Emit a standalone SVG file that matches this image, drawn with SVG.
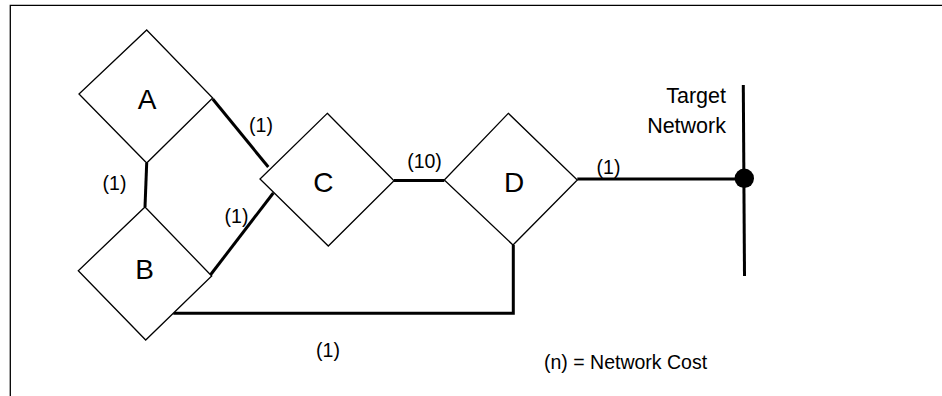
<svg xmlns="http://www.w3.org/2000/svg" width="942" height="396" viewBox="0 0 942 396">
<style>
.node{fill:#fff;stroke:#000;stroke-width:1.3;stroke-linejoin:miter}
.conn{fill:none;stroke:#000;stroke-width:3}
.frame{fill:none;stroke:#000;stroke-width:1.3}
.big{font-family:"Liberation Sans",Arial,sans-serif;font-size:28px;fill:#000;text-anchor:middle}
.lbl{font-family:"Liberation Sans",Arial,sans-serif;font-size:19.5px;fill:#000;text-anchor:middle}
.tn{font-family:"Liberation Sans",Arial,sans-serif;font-size:21.5px;fill:#000;text-anchor:end}
</style>
<rect width="942" height="396" fill="#fff"/>
<path class="frame" d="M10.3,396 V5.3 H942"/>
<g id="connectors">
<line class="conn" x1="146.7" y1="163" x2="145" y2="207"/>
<line class="conn" x1="212.7" y1="99" x2="268.3" y2="167"/>
<line class="conn" x1="210" y1="275.5" x2="273.3" y2="193"/>
<line class="conn" x1="394" y1="180.5" x2="444.3" y2="180.5"/>
<line class="conn" x1="577.3" y1="179" x2="744" y2="179"/>
<path class="conn" d="M173.3,313.3 H513.3 V245"/>
<line class="conn" x1="743.3" y1="85" x2="744.5" y2="276"/>
<circle cx="744.3" cy="178.3" r="9.7" fill="#000"/>
<text class="lbl" x="261" y="132">(1)</text>
<text class="lbl" x="114.5" y="190">(1)</text>
<text class="lbl" x="236.5" y="223">(1)</text>
<text class="lbl" x="424.5" y="168">(10)</text>
<text class="lbl" x="608.5" y="174">(1)</text>
<text class="lbl" x="328" y="357">(1)</text>
</g>
<g id="A">
<polygon class="node" points="146.7,30 212.7,98 146.7,163 79,94"/>
<text class="big" x="147" y="109.3">A</text>
</g>
<g id="B">
<polygon class="node" points="145,207 211.7,276 145.7,340 78.3,270.7"/>
<text class="big" x="144.5" y="279.3">B</text>
</g>
<g id="C">
<polygon class="node" points="327.3,113.3 394,180.7 328.3,246 260,179"/>
<text class="big" x="323.3" y="192">C</text>
</g>
<g id="D">
<polygon class="node" points="508.3,113.3 577.3,180 513,245 444.3,180"/>
<text class="big" x="514" y="191.7">D</text>
</g>
<g id="target">
<text class="tn" x="726" y="103.3">Target</text>
<text class="tn" x="726" y="132.7">Network</text>
</g>
<g id="legend">
<text class="lbl" x="544" y="369" style="text-anchor:start">(n) = Network Cost</text>
</g>
</svg>
